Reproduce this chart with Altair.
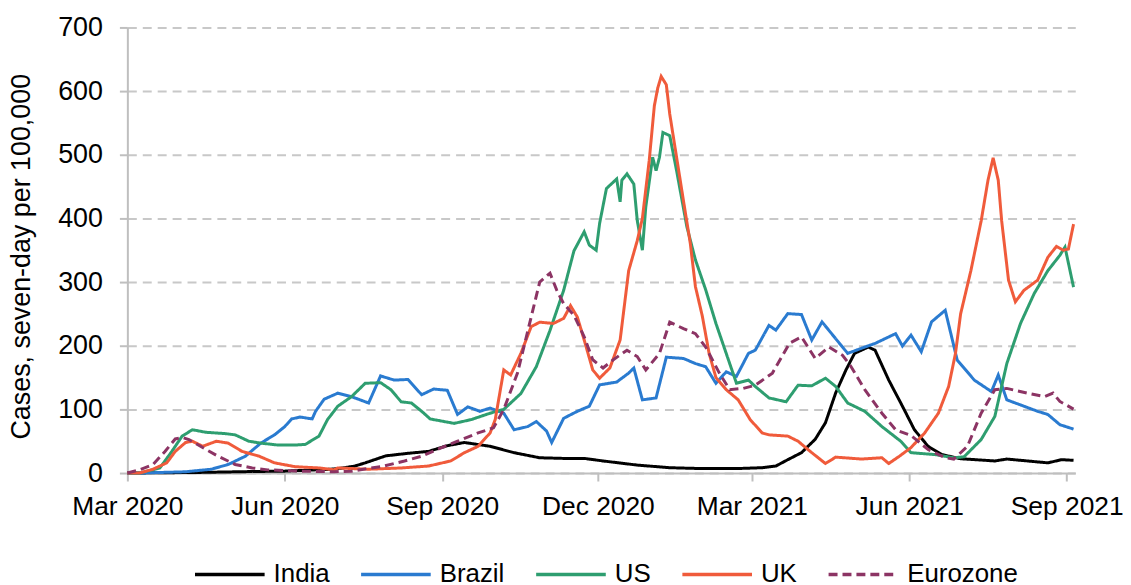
import altair as alt
import pandas as pd

SERIES = ["India", "Brazil", "US", "UK", "Eurozone"]
COLORS = ["#000000", "#2a7bd0", "#2e9e70", "#f05b3b", "#8c3464"]
DASHES = [[1, 0], [1, 0], [1, 0], [1, 0], [9, 5]]

# day offsets from 1 Mar 2020, and seven-day cases per 100,000
india_day = [0, 42, 71, 92, 119, 126, 133, 139, 151, 164, 176, 187, 197, 212, 226, 241, 255, 267, 278, 298,
             317, 336, 356, 371, 379, 386, 394, 402, 408, 414, 420, 425, 433, 437, 445, 453, 460, 468, 476, 487,
             507, 514, 538, 546, 553]
india_val = [0, 1, 2.3, 3, 6, 8, 11, 16, 27, 31, 34, 43, 48, 42, 32, 24, 23, 23, 19, 12.5,
             8.4, 7, 7, 8.4, 11, 21, 32, 53, 79, 126, 162, 188, 198, 193, 146, 105, 68, 42, 29, 22.5,
             19, 22, 16, 21, 20]

brazil_day = [0, 7, 34, 49, 59, 69, 78, 86, 92, 96, 101, 108, 110, 115, 123, 131, 141, 148, 156, 164,
              172, 179, 187, 193, 199, 206, 212, 220, 226, 234, 239, 245, 248, 255, 263, 270, 276, 286, 293, 296,
              301, 309, 315, 325, 332, 338, 344, 350, 356, 363, 367, 375, 379, 386, 394, 400, 406, 414, 421, 429,
              437, 449, 453, 458, 464, 470, 478, 485, 495, 505, 509, 514, 522, 532, 538, 545, 553]
brazil_val = [0, 0, 2, 6, 13.5, 26.5, 47, 60, 73, 85, 88, 85, 97, 116, 125.5, 120, 110, 152.6, 146, 147,
              123, 132, 130, 92, 104, 97, 102, 94, 68, 73, 81, 66, 48, 86, 97, 105, 138.5, 143, 157, 165,
              115, 118, 182, 180, 172, 167, 141, 159, 152, 188, 193, 232, 224.5, 250.5, 249, 209, 237.5, 211, 188, 196,
              203.6, 219, 199.5, 216.7, 190.6, 237.5, 255.7, 177.6, 146, 128, 154, 115, 107, 97, 92, 76, 69]

us_day = [0, 7, 19, 26, 32, 38, 46, 57, 63, 71, 78, 88, 98, 104, 112, 117, 123, 131, 139, 148,
          154, 160, 166, 172, 177, 185, 191, 201, 212, 220, 230, 239, 247, 255, 261, 267, 270, 274, 276, 280,
          286, 288, 289, 292, 296, 298, 301, 303, 307, 309, 311, 313, 317, 321, 327, 332, 338, 344, 350, 356,
          363, 367, 375, 385, 392, 400, 408, 414, 421, 431, 441, 452, 458, 472, 483, 489, 499, 507, 514, 522,
          530, 538, 545, 548, 553]
us_val = [0, 0, 8, 34, 58, 68, 64, 62, 60, 50, 47, 44, 44, 45, 58, 84, 105, 120, 141, 142,
          131, 112, 110, 97, 85, 81, 78, 84, 94, 100, 125, 167, 224, 287, 349, 379, 358, 350, 392, 447,
          462, 426, 460, 470, 454, 397, 350, 418, 496, 475, 496, 535, 530, 475, 387, 335, 288, 235, 188, 141,
          146, 136, 118, 112, 138, 137, 149, 136, 110, 97, 73, 50, 32, 29, 24, 25.5, 52.6, 89, 172, 235,
          282, 318, 342, 355, 292]

uk_day = [0, 7, 15, 23, 28, 34, 38, 44, 52, 59, 67, 77, 86, 98, 112, 121, 123, 141, 160, 176,
          189, 197, 205, 212, 215, 220, 224, 230, 236, 241, 249, 255, 259, 263, 267, 272, 276, 282, 288, 293,
          298, 301, 305, 308, 310, 312, 315, 317, 321, 325, 329, 332, 336, 340, 344, 350, 357, 364, 371, 375,
          386, 392, 400, 408, 414, 429, 441, 445, 451, 458, 466, 474, 480, 484, 487, 493, 499, 503, 506, 509,
          511, 515, 519, 524, 532, 538, 543, 547, 550, 553]
uk_val = [0, 0, 6, 16, 34, 48, 50, 42, 50, 47, 34, 26.5, 16, 10, 8, 5, 8, 6, 8, 11,
          19, 32, 42, 63, 84, 162, 154, 188, 230, 237, 235, 243, 263, 245, 209, 162, 149, 165, 209, 318,
          365, 400, 491, 577, 605, 623, 610, 564, 496, 428, 361, 293, 247, 188, 150, 131, 115, 84, 63, 60,
          58, 50, 32, 15, 25, 22, 24, 15, 26, 40, 63, 94, 136, 188, 250, 318, 396, 460, 495, 460,
          396, 303, 269, 287, 303, 339, 356, 350, 352, 391]

ez_day = [0, 7, 15, 22, 28, 32, 36, 44, 53, 63, 73, 82, 102, 121, 131, 150, 162, 172, 181, 193,
          205, 214, 220, 228, 236, 241, 247, 251, 255, 261, 267, 272, 278, 284, 292, 298, 303, 311, 317, 325,
          332, 338, 346, 352, 360, 367, 377, 387, 394, 402, 410, 418, 423, 431, 441, 449, 458, 468, 478, 483,
          491, 499, 507, 514, 526, 536, 541, 545, 553]
ez_val = [0, 5, 13.5, 34, 53.6, 56, 52.6, 40, 26.5, 13.5, 8, 5, 3, 2, 3, 11, 19, 26.5, 37, 50,
          63, 71, 100, 157, 245, 300, 314, 287, 266, 248, 214, 178, 165, 178, 193, 183, 162, 188, 237, 227,
          219, 198, 157, 131, 133, 138, 157, 204, 214, 180, 198, 185, 167, 131, 94, 68, 59, 37, 24, 22,
          42, 94, 131, 133, 125.5, 120, 125.5, 112.5, 100.5]

Y_TICKS = [0, 100, 200, 300, 400, 500, 600, 700]

start = pd.Timestamp("2020-03-01")
rows = []
for name, days, vals in [("India", india_day, india_val), ("Brazil", brazil_day, brazil_val),
                         ("US", us_day, us_val), ("UK", uk_day, uk_val), ("Eurozone", ez_day, ez_val)]:
    assert len(days) == len(vals), name
    for d, v in zip(days, vals):
        rows.append({"date": (start + pd.Timedelta(days=d)).strftime("%Y-%m-%dT%H:%M:%S"),
                     "series": name, "value": v})
df = pd.DataFrame(rows)

FONT = "Liberation Sans"
FS = 27
x_ticks = [alt.DateTime(year=y, month=m, date=1) for y, m in
           [(2020, 3), (2020, 6), (2020, 9), (2020, 12), (2021, 3), (2021, 6), (2021, 9)]]

chart = alt.Chart(df).mark_line(strokeWidth=3).encode(
    x=alt.X("date:T",
            scale=alt.Scale(domain=[alt.DateTime(year=2020, month=3, date=1),
                                    alt.DateTime(year=2021, month=9, date=6)], nice=False),
            axis=alt.Axis(values=x_ticks, format="%b %Y", title=None, grid=False,
                          labelPadding=13, labelFlush=False, labelFontSize=26.5)),
    y=alt.Y("value:Q",
            scale=alt.Scale(domain=[0, 700], nice=False),
            axis=alt.Axis(values=Y_TICKS, title="Cases, seven-day per 100,000", grid=True,
                          gridDash=[9, 6], gridColor="#c8c8c8", gridWidth=2,
                          labelPadding=17, titleX=-92, titleY=230, titleFontSize=FS,
                          titleFontWeight="normal", titleColor="#000000", titleFont=FONT)),
    color=alt.Color("series:N", scale=alt.Scale(domain=SERIES, range=COLORS),
                    legend=alt.Legend(title=None)),
    strokeDash=alt.StrokeDash("series:N", scale=alt.Scale(domain=SERIES, range=DASHES),
                              legend=alt.Legend(title=None)),
).properties(
    width=953, height=448,
    autosize=alt.AutoSizeParams(type="none"),
    padding={"left": 120, "top": 18, "right": 48, "bottom": 111},
).configure_view(stroke=None).configure_axis(
    labelFont=FONT, labelFontSize=FS, labelColor="#000000",
    domainColor="#bfbfbf", domainWidth=2, tickColor="#bfbfbf", tickWidth=2, tickSize=8,
).configure_legend(
    orient="none", legendX=66, legendY=513, direction="horizontal",
    symbolType="stroke", symbolSize=4900, symbolStrokeWidth=3.5,
    labelFont=FONT, labelFontSize=26, labelColor="#000000", labelOffset=7,
    columnPadding=24, padding=0,
)

chart.save("out.html", embed_options={"renderer": "svg", "actions": False})
